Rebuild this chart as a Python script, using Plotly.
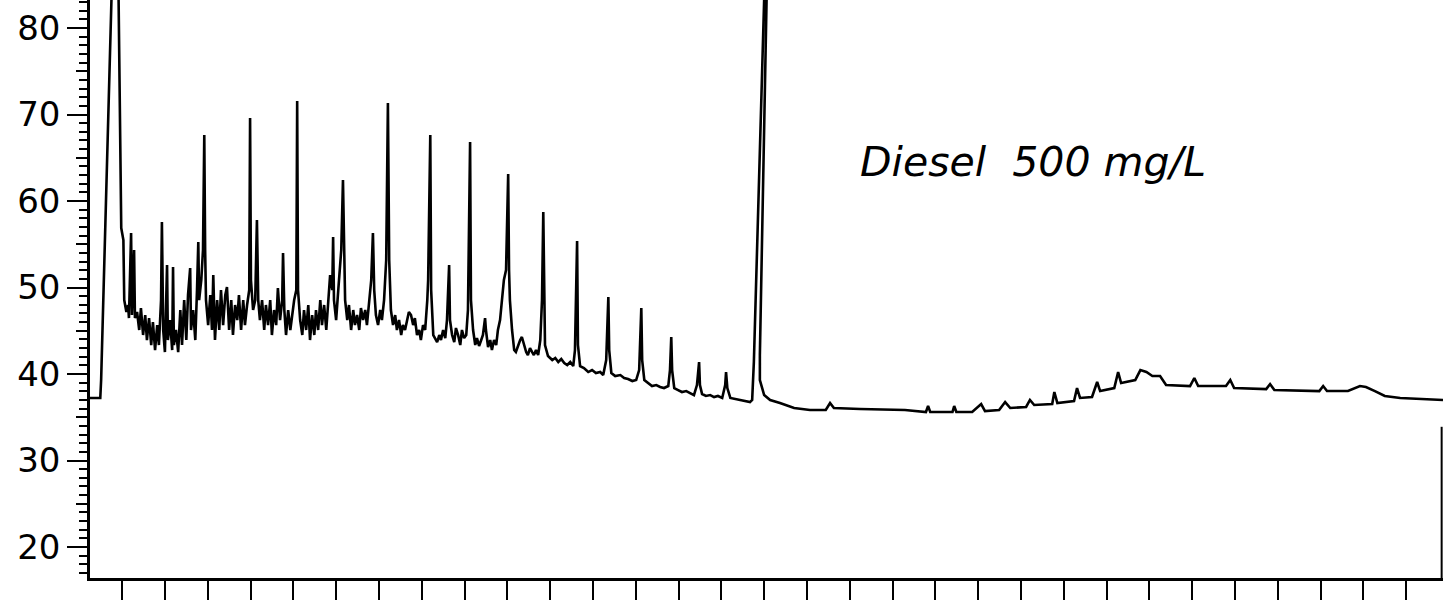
import plotly.graph_objects as go

# ---------------- data ----------------
# retention time (minutes, one x tick per minute) and detector response

# solvent front
t_front = [0.25, 0.49, 0.51, 0.77, 0.91, 0.98, 1.03, 1.05, 1.10]
y_front = [37.23, 37.23, 39.31, 86.71, 86.71, 56.88, 55.49, 48.55, 47.17]

# diesel hydrocarbon envelope (n-alkane peaks on an unresolved hump)
t_hc = [1.14, 1.16, 1.21, 1.23, 1.28, 1.30, 1.35, 1.40, 1.44, 1.49, 1.54, 1.58, 1.63, 1.68, 1.72, 1.77,
        1.82, 1.86, 1.91, 1.93, 1.96, 2.00, 2.05, 2.07, 2.12, 2.17, 2.19, 2.21, 2.26, 2.31, 2.36, 2.40,
        2.45, 2.50, 2.54, 2.59, 2.61, 2.66, 2.71, 2.75, 2.78, 2.80, 2.85, 2.89, 2.92, 2.94, 2.96, 3.01,
        3.06, 3.10, 3.13, 3.17, 3.22, 3.27, 3.31, 3.36, 3.41, 3.45, 3.50, 3.55, 3.59, 3.64, 3.69, 3.73,
        3.78, 3.83, 3.87, 3.92, 3.97, 3.99, 4.01, 4.06, 4.11, 4.15, 4.18, 4.22, 4.27, 4.32, 4.36, 4.41,
        4.46, 4.50, 4.55, 4.60, 4.64, 4.69, 4.74, 4.76, 4.79, 4.83, 4.88, 4.93, 4.97, 5.02, 5.07, 5.09,
        5.11, 5.16, 5.21, 5.25, 5.30, 5.35, 5.39, 5.44, 5.49, 5.53, 5.58, 5.63, 5.67, 5.72, 5.77, 5.81,
        5.86, 5.91, 5.93, 5.95, 6.00, 6.05, 6.09, 6.12, 6.16, 6.19, 6.21, 6.26, 6.30, 6.35, 6.40, 6.44,
        6.49, 6.54, 6.58, 6.63, 6.68, 6.72, 6.77, 6.82, 6.86, 6.89, 6.93, 6.98, 7.03, 7.07, 7.12, 7.17,
        7.21, 7.24, 7.28, 7.33, 7.38, 7.42, 7.47, 7.52, 7.56, 7.61, 7.66, 7.70, 7.75, 7.80, 7.84, 7.89,
        7.94, 7.98, 8.03, 8.08, 8.13, 8.15, 8.20, 8.22, 8.27, 8.31, 8.36, 8.41, 8.45, 8.50, 8.55, 8.59,
        8.64, 8.66, 8.71, 8.76, 8.80, 8.85, 8.90, 8.94, 8.99, 9.04, 9.08, 9.13, 9.15, 9.20, 9.25, 9.29,
        9.34, 9.39, 9.43, 9.48, 9.50, 9.55, 9.60, 9.64, 9.69, 9.74, 9.78, 9.83, 9.88, 9.92, 9.97, 10.02,
        10.04, 10.06, 10.11, 10.16, 10.20, 10.25, 10.30, 10.34, 10.39, 10.44, 10.48, 10.53, 10.58, 10.62,
        10.67, 10.72, 10.77, 10.81, 10.84, 10.86, 10.88, 10.95, 11.05, 11.12, 11.19, 11.26, 11.33, 11.40,
        11.47, 11.54, 11.58, 11.63, 11.65, 11.70, 11.79, 11.89, 11.98, 12.07, 12.17, 12.24, 12.31, 12.36,
        12.38, 12.43, 12.52, 12.64, 12.73, 12.82, 12.92, 13.01, 13.08, 13.13, 13.15, 13.20, 13.29, 13.38,
        13.48, 13.57, 13.66, 13.76, 13.80, 13.83, 13.85, 13.90, 13.99, 14.08, 14.18, 14.27, 14.36, 14.43,
        14.48, 14.50, 14.55, 14.64, 14.74, 14.83, 14.92, 15.02, 15.09, 15.11, 15.14, 15.21, 15.32, 15.44,
        15.55, 15.67, 15.72]
y_hc = [47.98, 46.47, 56.30, 46.82, 54.34, 46.47, 47.17, 45.09, 47.63, 44.51, 46.82, 43.93, 46.47, 43.35, 46.01, 42.77,
        45.66, 43.35, 48.55, 57.57, 45.09, 42.54, 52.60, 43.93, 46.24, 42.77, 52.37, 43.35, 45.09, 42.54, 47.40, 43.35,
        48.55, 43.93, 49.13, 52.25, 45.09, 47.40, 43.93, 49.71, 55.26, 48.55, 50.87, 54.34, 67.63, 54.34, 48.55, 45.66,
        49.13, 45.09, 51.45, 43.93, 48.55, 45.09, 49.71, 45.66, 49.13, 50.06, 45.09, 48.55, 44.51, 47.98, 46.24, 49.13,
        45.09, 48.55, 45.66, 47.98, 49.71, 69.60, 50.87, 47.40, 48.55, 57.80, 48.55, 46.24, 48.55, 45.09, 47.98, 45.66,
        48.55, 44.51, 47.40, 45.66, 49.94, 46.24, 48.55, 53.99, 47.40, 44.51, 47.40, 45.09, 46.82, 48.55, 49.71, 71.56,
        49.71, 46.24, 44.51, 47.40, 45.09, 47.98, 43.93, 46.82, 44.51, 47.40, 45.09, 48.55, 45.66, 47.98, 45.09, 48.55,
        51.45, 49.71, 55.84, 48.55, 46.24, 49.71, 52.60, 54.34, 62.43, 53.18, 48.55, 46.24, 47.98, 45.09, 47.40, 45.66,
        46.82, 45.09, 47.63, 46.24, 47.40, 45.66, 48.55, 50.87, 56.30, 49.71, 46.82, 45.66, 47.40, 46.24, 48.55, 53.18,
        71.33, 53.18, 47.40, 45.66, 46.82, 45.09, 46.24, 44.51, 45.66, 45.09, 46.24, 47.17, 46.82, 45.66, 46.47, 44.51,
        45.09, 43.93, 45.66, 45.09, 48.55, 50.87, 67.63, 49.71, 44.51, 44.16, 43.70, 44.51, 43.93, 45.09, 44.16, 46.24,
        52.60, 46.24, 44.51, 43.70, 45.32, 44.51, 43.35, 45.09, 44.16, 44.51, 47.40, 66.82, 48.55, 45.09, 43.35, 44.16,
        43.24, 43.93, 44.51, 46.47, 45.09, 43.12, 43.93, 42.77, 43.93, 43.35, 45.09, 46.24, 48.55, 50.87, 52.02, 63.12,
        52.02, 48.55, 45.09, 42.77, 42.54, 43.35, 43.93, 44.28, 43.35, 42.54, 42.20, 43.00, 42.54, 42.20,
        42.77, 42.20, 43.93, 48.55, 58.73, 48.55, 43.35, 42.08, 41.62, 41.85, 41.39, 41.73, 41.27, 41.04,
        41.39, 40.92, 42.77, 55.38, 43.35, 40.92, 40.69, 40.23, 40.46, 40.12, 40.23, 39.88, 41.62, 48.90,
        42.77, 40.12, 39.77, 39.88, 39.54, 39.42, 39.19, 39.31, 40.46, 47.63, 41.62, 39.31, 38.96, 38.61,
        38.73, 38.50, 38.38, 38.61, 40.46, 44.28, 40.46, 38.38, 38.15, 37.92, 38.03, 37.80, 37.57, 38.73,
        41.39, 38.73, 37.69, 37.46, 37.57, 37.34, 37.46, 37.23, 38.73, 40.23, 38.38, 37.23, 37.11, 37.00,
        36.88, 36.76, 37.00]

# internal standard peak (off scale)
t_std = [15.76, 16.02, 16.07, 15.90, 15.90, 16.00, 16.14]
y_std = [41.39, 86.71, 86.71, 42.20, 39.31, 37.57, 37.00]

# late-eluting baseline
t_late = [16.37, 16.70, 17.07, 17.44, 17.54, 17.63, 18.24, 19.29, 19.78, 19.83, 19.88, 20.40, 20.44, 20.49,
          20.86, 21.07, 21.16, 21.49, 21.63, 21.75, 22.12, 22.21, 22.31, 22.73, 22.78, 22.85, 23.24, 23.31,
          23.38, 23.66, 23.78, 23.85, 24.18, 24.27, 24.34, 24.67, 24.79, 24.93, 25.07, 25.25, 25.39, 25.95,
          26.05, 26.14, 26.79, 26.89, 26.98, 27.73, 27.82, 27.92, 28.97, 29.06, 29.15, 29.64, 29.92, 30.06,
          30.27, 30.50, 30.86, 31.86]
y_late = [36.65, 36.07, 35.84, 35.84, 36.65, 36.07, 35.95, 35.84, 35.61, 36.30, 35.61, 35.61, 36.30, 35.61,
          35.61, 36.53, 35.72, 35.84, 36.76, 36.07, 36.19, 37.00, 36.42, 36.53, 37.92, 36.65, 36.88, 38.38,
          37.23, 37.34, 39.08, 38.03, 38.38, 40.23, 38.96, 39.31, 40.46, 40.23, 39.77, 39.77, 38.73, 38.61,
          39.54, 38.61, 38.61, 39.31, 38.38, 38.26, 38.84, 38.15, 38.03, 38.61, 38.03, 38.03, 38.61, 38.50,
          38.03, 37.46, 37.23, 37.00]

y_major_ticks = [20, 30, 40, 50, 60, 70, 80]
y_mid_ticks = [25, 35, 45, 55, 65, 75]
note_text = "Diesel  500 mg/L"
frame_right_top = 33.9

x_range = [0.25, 31.86]
y_range = [16.42, 83.24]

# ---------------- figure ----------------
t_all = t_front + t_hc + t_std + t_late
y_all = y_front + y_hc + y_std + y_late

fig = go.Figure()
fig.add_trace(go.Scatter(x=t_all, y=y_all, mode="lines",
                         line=dict(color="black", width=2.6),
                         showlegend=False, hoverinfo="skip"))
fig.add_trace(go.Scatter(x=[None], y=[None], yaxis="y2", showlegend=False,
                         hoverinfo="skip"))

fig.add_shape(type="line", xref="x domain", yref="y", x0=0.999, x1=0.999,
              y0=y_range[0], y1=frame_right_top,
              line=dict(color="black", width=2))

fig.add_annotation(text=note_text, xref="paper", yref="paper", x=0.697, y=0.72,
                   showarrow=False, xanchor="center", yanchor="middle",
                   font=dict(family="DejaVu Sans", size=41, color="black", style="italic"))

tick_style = dict(ticks="outside", tickcolor="black", tickwidth=2)

fig.update_layout(
    width=1446, height=600,
    margin=dict(l=90, r=3, t=0, b=22, autoexpand=False),
    paper_bgcolor="white", plot_bgcolor="white",
    hovermode=False,
    xaxis=dict(range=x_range, showgrid=False, zeroline=False, showline=True,
               automargin=False,
               linecolor="black", linewidth=2.5, ticklen=35, tick0=0, dtick=4,
               showticklabels=False,
               minor=dict(ticklen=20, dtick=1, tick0=0, showgrid=False, **tick_style),
               **tick_style),
    yaxis=dict(range=y_range, showgrid=False, zeroline=False, showline=True,
               automargin=False,
               linecolor="black", linewidth=2.5, ticklen=20,
               tickmode="array", tickvals=y_major_ticks,
               ticktext=[str(v) for v in y_major_ticks],
               tickfont=dict(family="DejaVu Sans", size=34, color="black"),
               minor=dict(ticklen=8, dtick=1, tick0=0, showgrid=False,
                          ticks="outside", tickcolor="black", tickwidth=1.5),
               **tick_style),
    yaxis2=dict(range=y_range, overlaying="y", side="left", anchor="x",
                automargin=False,
                showgrid=False, zeroline=False, showline=False,
                tickmode="array", tickvals=y_mid_ticks, showticklabels=False,
                ticklen=13, **tick_style),
)

fig.write_html("out.html",
               config={"displayModeBar": False},
               post_script="document.body.style.margin='0';document.body.style.overflow='hidden';")
